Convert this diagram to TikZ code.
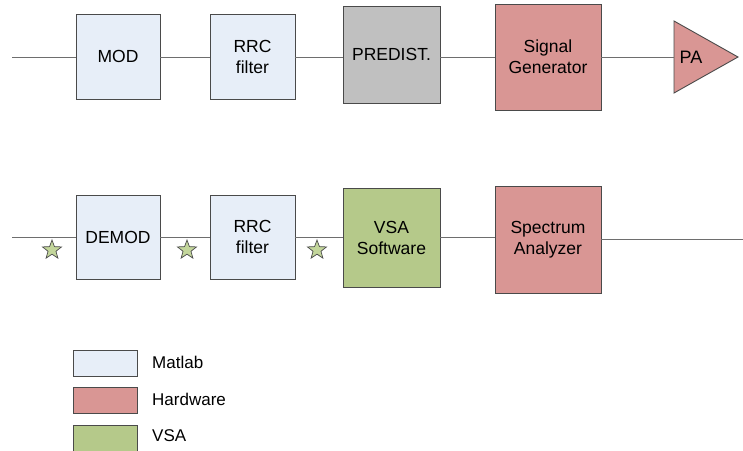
\documentclass[tikz,border=0pt]{standalone}
\usepackage{fontspec}
\setmainfont{Liberation Sans}
\usetikzlibrary{shapes.geometric}
\definecolor{matlabc}{HTML}{E7EEF8}
\definecolor{hwc}{HTML}{D99694}
\definecolor{vsac}{HTML}{B5C98A}
\definecolor{predc}{HTML}{C0C0C0}
\definecolor{edgec}{HTML}{4A4A4A}
\definecolor{wirec}{HTML}{6E6E6E}
\definecolor{starc}{HTML}{C3D69B}
\begin{document}
\begin{tikzpicture}[x=1pt,y=-1pt,
  blk/.style={draw=edgec,line width=0.9pt,align=center,inner sep=0pt,
    font=\fontsize{17.5}{21}\selectfont},
  mat/.style={blk,fill=matlabc},
  hw/.style={blk,fill=hwc},
  vsa/.style={blk,fill=vsac},
  pred/.style={blk,fill=predc},
  wire/.style={draw=wirec,line width=0.9pt},
  mark5/.style={star,star points=5,star point ratio=2.4,minimum size=20pt,
    inner sep=0pt,draw=edgec,fill=starc,line width=0.7pt},
  legtxt/.style={anchor=west,font=\fontsize{17}{21}\selectfont,inner sep=0pt}]
\useasboundingbox (0,0) rectangle (743,450);
% top row
\coordinate (tin) at (12,57);
\node[mat,minimum width=84pt,minimum height=85pt] (mod) at (118,56.5) {MOD};
\node[mat,minimum width=85pt,minimum height=85pt] (rrc1) at (252.5,56.5) {RRC\\filter};
\node[pred,minimum width=97pt,minimum height=97pt] (pre) at (391.5,54.5) {PREDIST.};
\node[hw,minimum width=106pt,minimum height=106pt] (sg) at (548,57) {Signal\\Generator};
\coordinate (pain) at (674,57);
\draw[fill=hwc,draw=edgec,line width=0.9pt] (674,21) -- (738,57) -- (674,93) -- cycle;
\node[font=\fontsize{18}{21}\selectfont,inner sep=0pt] (pa) at (691,57) {PA};
\draw[wire] (tin) -- (tin -| mod.west);
\draw[wire] (mod.east |- tin) -- (tin -| rrc1.west);
\draw[wire] (rrc1.east |- tin) -- (tin -| pre.west);
\draw[wire] (pre.east |- tin) -- (tin -| sg.west);
\draw[wire] (sg.east |- tin) -- (pain);
% bottom row
\coordinate (bin) at (12,237);
\node[mat,minimum width=84pt,minimum height=84pt] (demod) at (118,237) {DEMOD};
\node[mat,minimum width=85pt,minimum height=84pt] (rrc2) at (252.5,237) {RRC\\filter};
\node[vsa,minimum width=97pt,minimum height=99pt] (vsw) at (391.5,237.5) {VSA\\Software};
\node[hw,minimum width=106pt,minimum height=107pt] (sa) at (548,239.5) {Spectrum\\Analyzer};
\coordinate (bout) at (743,239.5);
\draw[wire] (bin) -- (bin -| demod.west);
\draw[wire] (demod.east |- bin) -- (bin -| rrc2.west);
\draw[wire] (rrc2.east |- bin) -- (bin -| vsw.west);
\draw[wire] (vsw.east |- bin) -- (bin -| sa.west);
\draw[wire] (sa.east) -- (bout);
\node[mark5] (s1) at (52,250) {};
\node[mark5] (s2) at (187,250) {};
\node[mark5] (s3) at (317,250) {};
% legend
\draw[draw=edgec,fill=matlabc,line width=0.9pt] (73,350) rectangle (137,376);
\node[legtxt] (lm) at (152,362) {Matlab};
\draw[draw=edgec,fill=hwc,line width=0.9pt] (73,387) rectangle (137,413);
\node[legtxt] (lh) at (152,399) {Hardware};
\draw[draw=edgec,fill=vsac,line width=0.9pt] (73,425) rectangle (137,451);
\node[legtxt] (lv) at (152,436) {VSA};
\end{tikzpicture}
\end{document}
